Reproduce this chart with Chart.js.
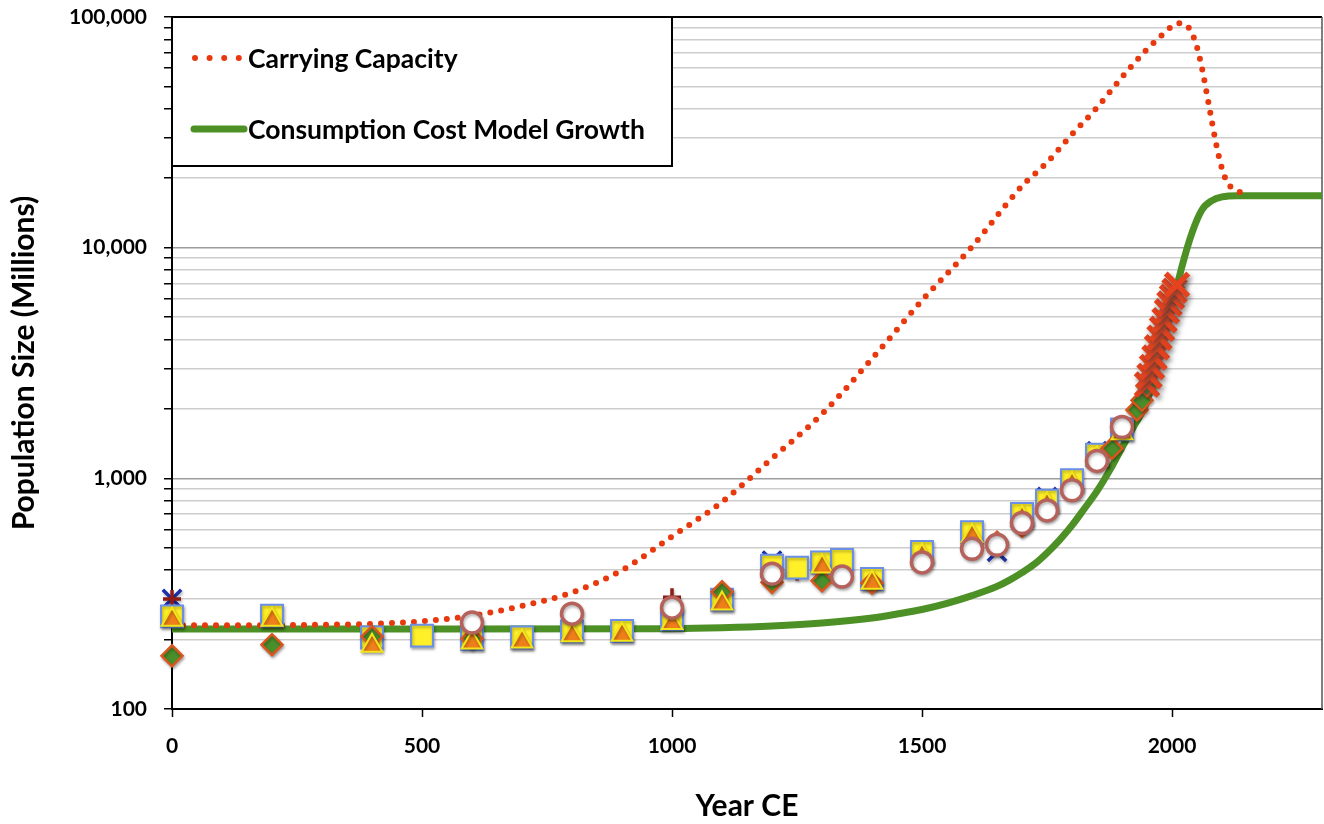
<!DOCTYPE html>
<html>
<head>
  <meta charset="utf-8">
  <title>Population Size vs Carrying Capacity</title>
  <script src="https://cdn.jsdelivr.net/npm/chart.js"></script>
  <style>
    html, body { margin: 0; padding: 0; background: #fff; }
    #wrap { width: 1324px; height: 824px; }
  </style>
</head>
<body>
  <div id="wrap"><canvas id="popChart" width="1324" height="824"></canvas></div>

  <script>
    // model curves (year CE, millions)
    const capacityYears = [0, 100, 200, 300, 400, 500, 600, 700, 800, 900, 1000, 1100, 1200, 1300, 1400, 1500, 1600, 1700, 1750, 1800, 1850, 1900, 1950, 1975, 2000, 2015, 2030, 2040, 2050, 2060, 2070, 2080, 2090, 2100, 2110, 2125, 2145];
    const capacityValues = [231, 231, 231, 232, 234, 240, 254, 280, 320, 400, 560, 790, 1220, 1900, 3300, 5900, 10100, 18500, 23400, 31000, 40500, 54800, 72500, 81500, 91000, 94000, 91500, 85000, 74000, 60000, 46000, 35000, 27000, 22000, 19300, 17800, 17300];

    const growthYears = [0, 500, 1000, 1100, 1200, 1300, 1400, 1450, 1500, 1550, 1600, 1650, 1675, 1700, 1725, 1750, 1775, 1800, 1825, 1850, 1875, 1900, 1925, 1950, 1975, 2000, 2020, 2040, 2060, 2080, 2100, 2130, 2200, 2300];
    const growthValues = [222, 222, 223, 225, 229, 236, 248, 258, 270, 287, 310, 340, 362, 390, 425, 475, 540, 625, 740, 880, 1080, 1360, 1700, 2150, 3400, 5500, 8300, 11600, 14600, 16000, 16600, 16800, 16800, 16800];

    // historical estimates, one array pair per marker style
    const blueXYears = [0, 1200, 1650, 1750, 1850, 1950];
    const blueXValues = [300, 440, 480, 830, 1310, 2560];

    const plusYears = [0, 1000, 1250, 1500, 1750];
    const plusValues = [300, 305, 395, 492, 794];

    const squareYears = [0, 200, 400, 500, 600, 700, 800, 900, 1000, 1100, 1200, 1250, 1300, 1340, 1400, 1500, 1600, 1700, 1750, 1800, 1850, 1900];
    const squareValues = [252, 254, 204, 208, 201, 204, 217, 218, 245, 298, 418, 410, 432, 443, 366, 480, 584, 700, 800, 981, 1265, 1630];

    const triangleYears = [0, 200, 400, 600, 700, 800, 900, 1000, 1100, 1300, 1400, 1500, 1600, 1700, 1750, 1800, 1850, 1900];
    const triangleValues = [244, 244, 188, 194, 196, 209, 210, 236, 287, 415, 353, 462, 562, 675, 770, 945, 1220, 1570];

    const diamondYears = [0, 200, 400, 600, 1100, 1200, 1300, 1400, 1650, 1700, 1880, 1930, 1940, 1950];
    const diamondValues = [170, 190, 206, 202, 322, 354, 360, 352, 528, 620, 1350, 1980, 2180, 2520];

    const circleYears = [600, 800, 1000, 1200, 1340, 1500, 1600, 1650, 1700, 1750, 1800, 1850, 1900];
    const circleValues = [237, 259, 275, 386, 375, 432, 495, 515, 640, 726, 888, 1190, 1670];

    const modernYears = [1950, 1955, 1960, 1965, 1970, 1975, 1980, 1985, 1990, 1995, 2000, 2005, 2010];
    const modernValues = [2550, 2780, 3040, 3340, 3700, 4070, 4450, 4850, 5300, 5720, 6120, 6500, 6900];

    // axes
    const xTicks = [0, 500, 1000, 1500, 2000];
    const yMajorTicks = [100, 1000, 10000, 100000];
    const yTickLabels = ['100', '1,000', '10,000', '100,000'];

    const pairs = (xs, ys) => xs.map((x, i) => ({ x: x, y: ys[i] }));

    const yGridTicks = [];
    yMajorTicks.slice(0, -1).forEach(d => {
      for (let m = 1; m < 10; m++) yGridTicks.push(m * d);
    });
    yGridTicks.push(yMajorTicks[yMajorTicks.length - 1]);

    Chart.defaults.font.family = 'Lato';
    Chart.defaults.color = '#000';

    // soft drop shadow under the markers
    const markerShadow = {
      id: 'markerShadow',
      beforeDatasetDraw(chart, args) {
        const s = chart.data.datasets[args.index].shadow;
        if (!s) return;
        const ctx = chart.ctx;
        ctx.save();
        ctx.shadowColor = s.color;
        ctx.shadowBlur = s.blur;
        ctx.shadowOffsetX = s.dx;
        ctx.shadowOffsetY = s.dy;
      },
      afterDatasetDraw(chart, args) {
        if (chart.data.datasets[args.index].shadow) chart.ctx.restore();
      }
    };

    // top and right frame of the plot
    const plotFrame = {
      id: 'plotFrame',
      beforeDatasetsDraw(chart) {
        const { ctx, chartArea: a } = chart;
        ctx.save();
        ctx.strokeStyle = '#000';
        ctx.lineWidth = 2;
        ctx.beginPath();
        ctx.moveTo(a.left, a.top);
        ctx.lineTo(a.right, a.top);
        ctx.stroke();
        ctx.strokeStyle = '#555';
        ctx.lineWidth = 1.5;
        ctx.beginPath();
        ctx.moveTo(a.right, a.top);
        ctx.lineTo(a.right, a.bottom);
        ctx.stroke();
        ctx.restore();
      }
    };

    // boxed legend in the top-left corner, only for the two model curves
    const boxLegend = {
      id: 'boxLegend',
      afterDatasetsDraw(chart) {
        const { ctx, chartArea: a } = chart;
        const w = 500, h = 149;
        ctx.save();
        ctx.fillStyle = '#fff';
        ctx.fillRect(a.left, a.top, w, h);
        ctx.strokeStyle = '#000';
        ctx.lineWidth = 2;
        ctx.strokeRect(a.left, a.top, w, h);

        const rows = [
          { ds: chart.data.datasets[0], y: a.top + 41, dash: [0, 14.6], x0: a.left + 23, x1: a.left + 67 },
          { ds: chart.data.datasets[1], y: a.top + 112, dash: [], x0: a.left + 22, x1: a.left + 72 }
        ];
        rows.forEach(r => {
          ctx.strokeStyle = r.ds.borderColor;
          ctx.lineWidth = r.ds.borderWidth;
          ctx.lineCap = 'round';
          ctx.setLineDash(r.dash);
          ctx.beginPath();
          ctx.moveTo(r.x0, r.y);
          ctx.lineTo(r.x1, r.y);
          ctx.stroke();
          ctx.setLineDash([]);
          ctx.fillStyle = '#000';
          ctx.font = 'bold 26.5px Lato';
          ctx.textBaseline = 'middle';
          ctx.fillText(r.ds.label, a.left + 76, r.y + 1);
        });
        ctx.restore();
      }
    };

    const marker = (label, xs, ys, style) => Object.assign({
      label: label,
      type: 'scatter',
      data: pairs(xs, ys),
      showLine: false,
      clip: false,
      shadow: { color: 'rgba(0,0,0,0.3)', blur: 3, dx: 1, dy: 2 }
    }, style);

    const ctx = document.getElementById('popChart').getContext('2d');
    const chart = new Chart(ctx, {
      type: 'scatter',
      data: {
        datasets: [
          {
            label: 'Carrying Capacity',
            type: 'line',
            data: pairs(capacityYears, capacityValues),
            borderColor: '#e8380d',
            borderWidth: 6,
            borderDash: [0, 11],
            borderCapStyle: 'round',
            cubicInterpolationMode: 'monotone',
            pointRadius: 0,
            fill: false,
            order: 8
          },
          {
            label: 'Consumption Cost Model Growth',
            type: 'line',
            data: pairs(growthYears, growthValues),
            borderColor: '#4d9126',
            borderWidth: 7,
            borderCapStyle: 'round',
            borderJoinStyle: 'round',
            cubicInterpolationMode: 'monotone',
            pointRadius: 0,
            fill: false,
            order: 9
          },
          marker('Blue x', blueXYears, blueXValues, {
            pointStyle: 'crossRot', pointRadius: 13, borderColor: '#1d2fa8', borderWidth: 3.5, order: 7
          }),
          marker('Plus', plusYears, plusValues, {
            pointStyle: 'cross', pointRadius: 9, borderColor: '#8e1b14', borderWidth: 3.5, order: 6
          }),
          marker('Squares', squareYears, squareValues, {
            pointStyle: 'rect', pointRadius: 15.5, backgroundColor: '#fff02a', borderColor: '#6a8fe6', borderWidth: 2, order: 5
          }),
          marker('Diamonds', diamondYears, diamondValues, {
            pointStyle: 'rectRot', pointRadius: 10.5, backgroundColor: '#4a8f2b', borderColor: '#d9561f', borderWidth: 2.5, order: 4
          }),
          marker('Triangles', triangleYears, triangleValues, {
            pointStyle: 'triangle', pointRadius: 12, backgroundColor: '#ef7f1a', borderColor: '#f4e51a', borderWidth: 2, order: 3
          }),
          marker('Circles', circleYears, circleValues, {
            pointStyle: 'circle', pointRadius: 10.5, backgroundColor: '#ffffff', borderColor: '#b5625c', borderWidth: 3.5, order: 2
          }),
          marker('Modern', modernYears, modernValues, {
            pointStyle: 'crossRot', pointRadius: 16, borderColor: '#e5421e', borderWidth: 5.5, order: 1,
            shadow: { color: 'rgba(60,60,60,0.6)', blur: 5, dx: 2, dy: 3 }
          })
        ]
      },
      options: {
        responsive: false,
        animation: false,
        devicePixelRatio: 1,
        layout: { autoPadding: false, padding: { top: 17, right: 2, left: 0, bottom: 0 } },
        plugins: {
          legend: { display: false },
          tooltip: { enabled: false }
        },
        scales: {
          x: {
            type: 'linear',
            min: 0,
            max: 2300,
            afterBuildTicks: s => { s.ticks = xTicks.map(v => ({ value: v })); },
            afterFit: s => {
              s.height = 115;
              s.paddingLeft = 0;
              s.paddingRight = 0;
            },
            grid: { drawOnChartArea: false, drawTicks: true, tickLength: 8, tickColor: '#000', tickWidth: 1.5 },
            border: { color: '#000', width: 2 },
            ticks: {
              autoSkip: false,
              maxRotation: 0,
              padding: 17,
              color: '#000',
              font: { size: 21, weight: 'bold' },
              callback: v => String(v)
            },
            title: {
              display: true,
              text: 'Year CE',
              color: '#000',
              font: { size: 30, weight: 'bold' },
              padding: { top: 0, bottom: 0 }
            }
          },
          y: {
            type: 'logarithmic',
            min: 100,
            max: 100000,
            afterBuildTicks: s => { s.ticks = yGridTicks.map(v => ({ value: v })); },
            afterFit: s => {
              s.width = 172;
              s.paddingTop = 0;
              s.paddingBottom = 0;
            },
            grid: {
              z: -1,
              color: c => (yMajorTicks.includes(c.tick && c.tick.value) ? '#9d9d9d' : '#cdcdcd'),
              lineWidth: 1.5,
              tickLength: 8,
              tickColor: '#000',
              tickWidth: 1.5
            },
            border: { color: '#000', width: 2 },
            ticks: {
              autoSkip: false,
              padding: 17,
              color: '#000',
              font: { size: 21, weight: 'bold' },
              callback: v => {
                const i = yMajorTicks.indexOf(v);
                return i >= 0 ? yTickLabels[i] : '';
              }
            },
            title: {
              display: true,
              text: 'Population Size (Millions)',
              color: '#000',
              font: { size: 30, weight: 'bold' },
              padding: { top: 6, bottom: 0 }
            }
          }
        }
      },
      plugins: [markerShadow, plotFrame, boxLegend]
    });
  </script>
</body>
</html>
